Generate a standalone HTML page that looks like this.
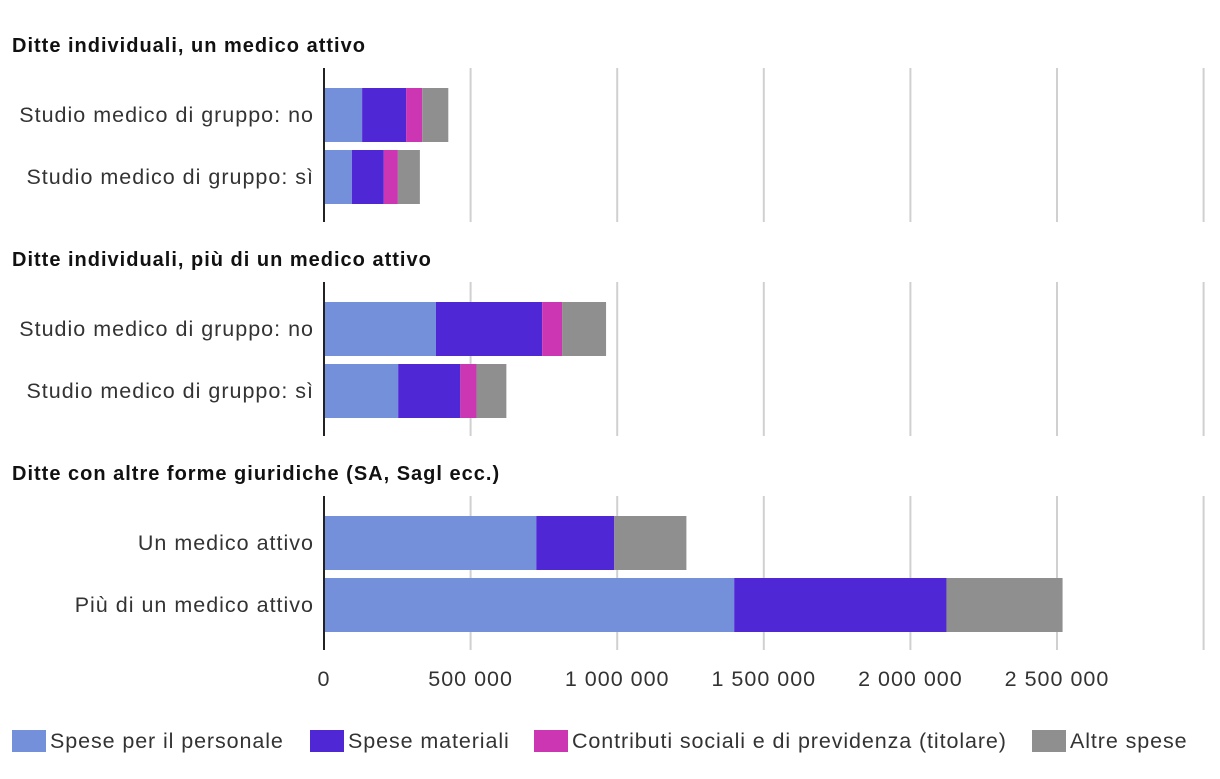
<!DOCTYPE html>
<html><head><meta charset="utf-8"><style>
body{margin:0;background:#fff;font-family:"Liberation Sans",sans-serif;}
svg text{font-family:"Liberation Sans",sans-serif;}
</style></head><body>
<svg id="chart" width="1220" height="774" xmlns="http://www.w3.org/2000/svg"></svg>
<script>
const groups = ["Ditte individuali, un medico attivo","Ditte individuali, più di un medico attivo","Ditte con altre forme giuridiche (SA, Sagl ecc.)"];
const categories = [["Studio medico di gruppo: no","Studio medico di gruppo: sì"],["Studio medico di gruppo: no","Studio medico di gruppo: sì"],["Un medico attivo","Più di un medico attivo"]];
const seriesNames = ["Spese per il personale","Spese materiali","Contributi sociali e di previdenza (titolare)","Altre spese"];
const personale = [130000,95000,382000,253000,724000,1399000];
const materiali = [150000,109000,362000,212000,266000,724000];
const contributi = [55000,48000,68000,55000,0,0];
const altre = [89000,75000,150000,102000,246000,396000];
const ticks = [0,500000,1000000,1500000,2000000,2500000];
const tickLabels = ["0","500 000","1 000 000","1 500 000","2 000 000","2 500 000"];
const colors = ["#7590db","#4f27d4","#cc36b3","#8f8f8f"];
const NS="http://www.w3.org/2000/svg";
const svg=document.getElementById('chart');
const x0=324, pxPer=146.6/500000;
const x=v=>x0+v*pxPer;
function mk(tag,attrs,txt){const e=document.createElementNS(NS,tag);for(const k in attrs)e.setAttribute(k,attrs[k]);if(txt!==undefined)e.textContent=txt;svg.appendChild(e);return e;}
const panelTop=[68,282,496], panelH=154;
const series=[personale,materiali,contributi,altre];
groups.forEach((g,gi)=>{
  const t=mk('text',{x:12,y:panelTop[gi]-16,'font-size':20,'font-weight':'bold',fill:'#111','letter-spacing':1},g);
  
  
  for(let k=1;k<ticks.length+1;k++){
    const gx=x(500000*k);
    const l=mk('line',{x1:gx,x2:gx,y1:panelTop[gi],y2:panelTop[gi]+panelH,stroke:'#d0d0d0','stroke-width':2});
    
    
  }
  categories[gi].forEach((c,ci)=>{
    const idx=gi*2+ci;
    const by=panelTop[gi]+20+ci*62;
    const lb=mk('text',{x:314,y:by+34,'font-size':21.5,fill:'#333','text-anchor':'end','letter-spacing':1},c);
    
    
    let acc=0;
    series.forEach((s,si)=>{
      const v=s[idx]; if(!v)return;
      const r=mk('rect',{x:x(acc),y:by,width:x(acc+v)-x(acc),height:54,fill:colors[si]});
      
      
      acc+=v;
    });
  });
  const ax=mk('line',{x1:x0,x2:x0,y1:panelTop[gi],y2:panelTop[gi]+panelH,stroke:'#222','stroke-width':2});
  
  
});
ticks.forEach((t,i)=>{
  const e=mk('text',{x:x(t),y:686,'font-size':21.5,fill:'#333','text-anchor':'middle','letter-spacing':1},tickLabels[i]);
  
  
});
const legX=[12,310,534,1032];
seriesNames.forEach((n,i)=>{
  const r=mk('rect',{x:legX[i],y:730,width:34,height:22,fill:colors[i]});
  
  
  const t=mk('text',{x:legX[i]+38,y:748,'font-size':21.5,fill:'#333','letter-spacing':0.9},n);
  
  
});
</script>
</body></html>
